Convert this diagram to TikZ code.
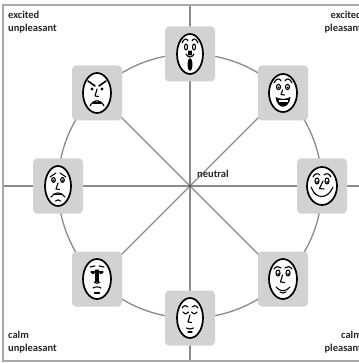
\documentclass[tikz,border=0pt]{standalone}
\usepackage{fontspec}
\setmainfont{Carlito}
\usetikzlibrary{backgrounds}
\definecolor{boxgray}{HTML}{D2D2D2}
\definecolor{linegray}{HTML}{8A8A8A}
\definecolor{framegray}{HTML}{A8A8A8}

\begin{document}
\begin{tikzpicture}[x=1pt,y=-1pt,
  facebox/.style={draw=none, fill=boxgray, rounded corners=4pt,
    minimum width=50pt, minimum height=55pt, inner sep=0pt},
  spoke/.style={draw=linegray, line width=1.3pt},
  ring/.style={draw=linegray, line width=1.3pt},
  lbl/.style={font=\bfseries\fontsize{10.5}{12.5}\selectfont, inner sep=0pt, text=black!85},
  oval/.style={draw=black, line width=1.7pt, fill=white},
  feat/.style={draw=black, line width=1.1pt, line cap=round, line join=round},
]
\useasboundingbox (0,0) rectangle (358,363);

% outer frame
\draw[framegray, line width=1.4pt] (3,5) rectangle (372,361);

% centre and axis end points
\coordinate (c) at (190,186);
\coordinate (ax-t) at (190,5);
\coordinate (ax-b) at (190,361);
\coordinate (ax-l) at (3,186);
\coordinate (ax-r) at (372,186);

% the eight face boxes on the circle
\node[facebox] (f-n)  at (190,54)  {};
\node[facebox] (f-ne) at (283,93)  {};
\node[facebox] (f-e)  at (322,186) {};
\node[facebox] (f-se) at (283,279) {};
\node[facebox] (f-s)  at (190,318) {};
\node[facebox] (f-sw) at (97,279)  {};
\node[facebox] (f-w)  at (58,186)  {};
\node[facebox] (f-nw) at (97,93)   {};

% axes, diagonals and circle behind the boxes
\begin{scope}[on background layer]
  \draw[spoke] (ax-t) -- (ax-b);
  \draw[spoke] (ax-l) -- (ax-r);
  \draw[spoke] (f-nw.center) -- (f-se.center);
  \draw[spoke] (f-ne.center) -- (f-sw.center);
  \draw[ring] (c) circle[radius=132];
  \fill[black!80] (c) circle[radius=1.2];
\end{scope}

% north: surprised
\begin{scope}[shift={(f-n.center)}]
  \draw[oval] (0,0) ellipse[x radius=13, y radius=20];
  \draw[feat] (-8,-11) .. controls (-6,-16) and (-3,-16) .. (-2,-13);
  \draw[feat] (8,-11) .. controls (6,-16) and (3,-16) .. (2,-13);
  \draw[feat] (-4,-7) ellipse[x radius=1.5, y radius=3];
  \draw[feat] (4,-7) ellipse[x radius=1.5, y radius=3];
  \draw[feat] (-1,-3) -- (-1,1) (1,-3) -- (1,1);
  \draw[feat] (-4,0) .. controls (-2,4) and (2,4) .. (4,0);
  \fill (0,10.5) ellipse[x radius=2.4, y radius=6.5];
\end{scope}

% north-east: laughing
\begin{scope}[shift={(f-ne.center)}]
  \draw[oval] (0,0) ellipse[x radius=14, y radius=19];
  \draw[feat] (-9,-10) .. controls (-7,-15) and (-3,-15) .. (-2,-12);
  \draw[feat] (9,-10) .. controls (7,-15) and (3,-15) .. (2,-12);
  \draw[feat] (-4.5,-6) ellipse[x radius=2, y radius=2.6];
  \draw[feat] (4.5,-6) ellipse[x radius=2, y radius=2.6];
  \fill (-4.5,-5.5) circle[radius=1]; \fill (4.5,-5.5) circle[radius=1];
  \draw[feat] (-0.5,-3) -- (-2,1.5) -- (1.5,2);
  \fill (-7.5,4) .. controls (-6,17) and (6,17) .. (7.5,4)
        .. controls (3,6.5) and (-3,6.5) .. cycle;
  \fill[white] (-4.5,6.8) rectangle (4.5,9);
  \draw[white, line width=0.6pt] (-1.5,6.8) -- (-1.5,9) (1.5,6.8) -- (1.5,9);
\end{scope}

% east: pleasant
\begin{scope}[shift={(f-e.center)}]
  \draw[oval] (0,0) ellipse[x radius=15, y radius=19];
  \draw[feat] (-9,-9) .. controls (-7,-13) and (-4,-13) .. (-2,-11);
  \draw[feat] (9,-9) .. controls (7,-13) and (4,-13) .. (2,-11);
  \draw[feat] (-5,-5) ellipse[x radius=2, y radius=3];
  \draw[feat] (5,-5) ellipse[x radius=2, y radius=3];
  \fill (-5,-4) circle[radius=1]; \fill (5,-4) circle[radius=1];
  \draw[feat] (1,-5) -- (-2.5,2.5) -- (2,3);
  \draw[feat] (-10,3) .. controls (-6,13) and (5,13) .. (10,3);
  \draw[feat] (-10,3) -- (-11,1) (10,3) -- (11,1);
\end{scope}

% south-east: content
\begin{scope}[shift={(f-se.center)}]
  \draw[oval] (0,0) ellipse[x radius=14, y radius=20];
  \draw[feat] (-9,-10) .. controls (-7,-13) and (-4,-13) .. (-2,-11);
  \draw[feat] (9,-10) .. controls (7,-13) and (4,-13) .. (2,-11);
  \draw[feat] (-5,-6) ellipse[x radius=2, y radius=3];
  \draw[feat] (5,-6) ellipse[x radius=2, y radius=3];
  \fill (-5,-5) circle[radius=1]; \fill (5,-5) circle[radius=1];
  \draw[feat] (-0.5,-4) -- (-2.5,3) -- (1.5,3.5);
  \draw[feat] (-7,8) .. controls (-3,13) and (3,13) .. (7,8);
  \draw[feat] (-3,13) .. controls (-1,14.5) and (1,14.5) .. (3,13);
\end{scope}

% south: sleepy calm
\begin{scope}[shift={(f-s.center)}]
  \draw[oval] (0,0) ellipse[x radius=13, y radius=20];
  \draw[feat] (-8,-10) .. controls (-6,-13) and (-3,-13) .. (-2,-11);
  \draw[feat] (8,-10) .. controls (6,-13) and (3,-13) .. (2,-11);
  \draw[feat] (-7,-6) .. controls (-5,-3.5) and (-3,-3.5) .. (-1.5,-6);
  \draw[feat] (7,-6) .. controls (5,-3.5) and (3,-3.5) .. (1.5,-6);
  \draw[feat] (0,-3) -- (-2,4) -- (1.5,4.5);
  \draw[feat] (-3.5,10) .. controls (-1,11.5) and (1,11.5) .. (3.5,10);
  \draw[feat] (-2,14) -- (2,14);
\end{scope}

% south-west: tired
\begin{scope}[shift={(f-sw.center)}]
  \draw[oval] (0,0) ellipse[x radius=14, y radius=20];
  \draw[feat] (-7,-12) -- (-2,-13) (7,-12) -- (2,-13);
  \draw[feat] (-6,-7) -- (-2,-7) (6,-7) -- (2,-7);
  \fill (-4,-6) ellipse[x radius=1.8, y radius=1.3];
  \fill (4,-6) ellipse[x radius=1.8, y radius=1.3];
  \draw[feat] (-1,-9) -- (-1,3) (1,-9) -- (1,3);
  \draw[feat] (-3,3) .. controls (-1,5) and (1,5) .. (3,3);
  \draw[feat] (-4,9) .. controls (-2,7.5) and (2,7.5) .. (4,9);
  \draw[feat] (-2.5,14) -- (2.5,14);
\end{scope}

% west: unpleasant
\begin{scope}[shift={(f-w.center)}]
  \draw[oval] (0,0) ellipse[x radius=13, y radius=20];
  \draw[feat] (-8,-9) -- (-2,-13) (8,-9) -- (2,-13);
  \draw[feat] (-4.5,-6) ellipse[x radius=1.8, y radius=2.4];
  \draw[feat] (4.5,-6) ellipse[x radius=1.8, y radius=2.4];
  \fill (-4.5,-5.5) circle[radius=1]; \fill (4.5,-5.5) circle[radius=1];
  \draw[feat] (0,-3) -- (-2,3) -- (1.5,3.5);
  \draw[feat] (-7,11) .. controls (-3,5.5) and (3,5.5) .. (7,11);
  \draw[feat] (-4,8.5) -- (4,8.5);
  \draw[feat] (-2.5,15) .. controls (0,13.5) .. (2.5,15);
\end{scope}

% north-west: angry
\begin{scope}[shift={(f-nw.center)}]
  \draw[oval] (0,0) ellipse[x radius=14, y radius=20];
  \draw[feat, line width=1.6pt] (-9,-12) -- (-2,-7) (9,-12) -- (2,-7);
  \fill (-5,-4) circle[radius=1.7]; \fill (5,-4) circle[radius=1.7];
  \draw[feat] (0,-4) -- (-2,3) -- (1.5,3.5);
  \draw[feat] (-7,13) .. controls (-4,6) and (4,6) .. (7,13);
  \draw[feat] (-4,10) -- (4,10);
  \draw[feat] (-1.5,8) -- (-1.5,10) (1.5,8) -- (1.5,10);
\end{scope}

% corner and centre labels
\node[lbl, anchor=north west, align=left]  (lbl-eu) at (8,11)   {excited\\unpleasant};
\node[lbl, anchor=north east, align=right] (lbl-ep) at (362,11)  {excited\\pleasant};
\node[lbl, anchor=north west, align=left]  (lbl-cu) at (8,331)  {calm\\unpleasant};
\node[lbl, anchor=north east, align=right] (lbl-cp) at (362,331) {calm\\pleasant};
\node[lbl, anchor=west] (lbl-n) at (197,174) {neutral};
\end{tikzpicture}
\end{document}
